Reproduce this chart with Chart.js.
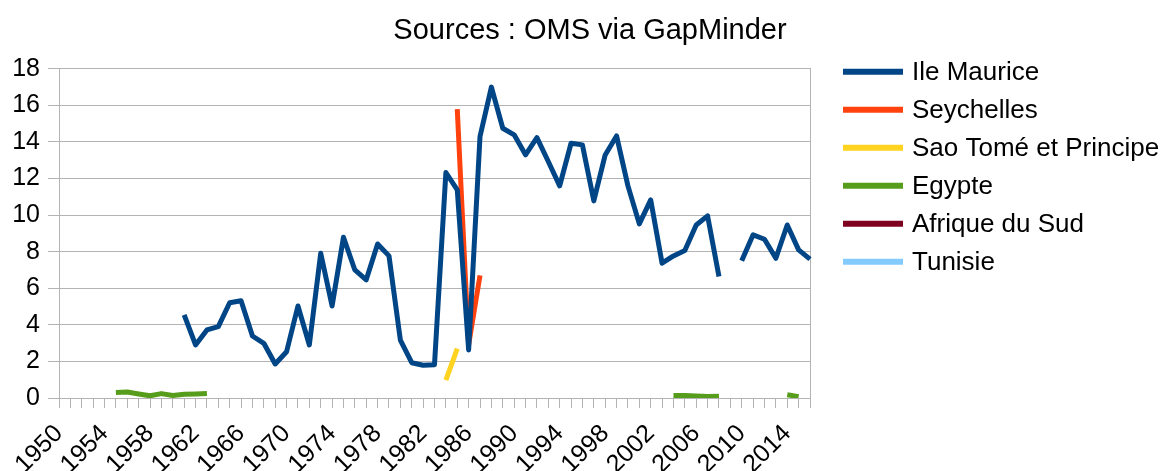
<!DOCTYPE html>
<html>
<head>
<meta charset="utf-8">
<script src="https://cdn.jsdelivr.net/npm/chart.js@4"></script>
<style>
  body { margin: 0; background: #fff; }
  #wrap { width: 1171px; height: 471px; }
</style>
</head>
<body>
<div id="wrap"><canvas id="chart"></canvas></div>
<script>
const FONT = '"Liberation Sans", Arial, sans-serif';

// years 1950..2016
const years = [];
for (let y = 1950; y <= 2016; y++) years.push(String(y));

const seriesNames = ['Ile Maurice', 'Seychelles', 'Sao Tomé et Principe', 'Egypte', 'Afrique du Sud', 'Tunisie'];
const seriesColors = ['#004586', '#ff420e', '#ffd320', '#579d1c', '#7e0021', '#83caff'];

// values, keyed by year
const ileMaurice = {
    1961: 4.54, 1962: 2.9, 1963: 3.72, 1964: 3.9, 1965: 5.21, 1966: 5.32, 1967: 3.39, 1968: 2.99,
    1969: 1.86, 1970: 2.53, 1971: 5.03, 1972: 2.9, 1973: 7.91, 1974: 5.03, 1975: 8.79, 1976: 7.0,
    1977: 6.46, 1978: 8.42, 1979: 7.77, 1980: 3.17, 1981: 1.93, 1982: 1.79, 1983: 1.82, 1984: 12.33,
    1985: 11.38, 1986: 2.63, 1987: 14.3, 1988: 17.0, 1989: 14.75, 1990: 14.39, 1991: 13.3, 1992: 14.24,
    1993: 12.93, 1994: 11.6, 1995: 13.93, 1996: 13.84, 1997: 10.78, 1998: 13.29, 1999: 14.33, 2000: 11.6,
    2001: 9.52, 2002: 10.83, 2003: 7.37, 2004: 7.77, 2005: 8.06, 2006: 9.46, 2007: 9.96, 2008: 6.64,
    2010: 7.51, 2011: 8.92, 2012: 8.68, 2013: 7.64, 2014: 9.46, 2015: 8.1, 2016: 7.59
};
const seychelles = { 1985: 15.8, 1986: 2.9, 1987: 6.7 };
const saoTome = { 1984: 0.98, 1985: 2.7 };
const egypte = {
    1955: 0.3, 1956: 0.33, 1957: 0.22, 1958: 0.12, 1959: 0.24, 1960: 0.14, 1961: 0.2, 1962: 0.22, 1963: 0.24,
    2004: 0.14, 2005: 0.13, 2006: 0.11, 2007: 0.08, 2008: 0.1,
    2014: 0.18, 2015: 0.07
};
const afriqueDuSud = {};
const tunisie = {};

const seriesValues = [ileMaurice, seychelles, saoTome, egypte, afriqueDuSud, tunisie];

function toArray(obj) {
    return years.map(y => (obj[y] !== undefined ? obj[y] : null));
}

const datasets = seriesNames.map((name, i) => ({
    label: name,
    data: toArray(seriesValues[i]),
    borderColor: seriesColors[i],
    backgroundColor: seriesColors[i],
    borderWidth: 5,
    borderJoinStyle: 'round',
    pointRadius: 0,
    pointHoverRadius: 0,
    tension: 0,
    spanGaps: false,
    fill: false
}));

// legend drawn to the right of the plot, rows aligned with the top of the plot
const sideLegend = {
    id: 'sideLegend',
    afterDraw(chart) {
        const { ctx, chartArea } = chart;
        const x0 = chartArea.right + 33;
        ctx.save();
        ctx.font = '26px ' + FONT;
        ctx.textBaseline = 'middle';
        ctx.textAlign = 'left';
        chart.data.datasets.forEach((ds, i) => {
            const y = chartArea.top + 3 + 38 * i;
            ctx.strokeStyle = ds.borderColor;
            ctx.lineWidth = 6;
            ctx.beginPath();
            ctx.moveTo(x0, y);
            ctx.lineTo(x0 + 60, y);
            ctx.stroke();
            ctx.fillStyle = '#000';
            ctx.fillText(ds.label, x0 + 69, y + 1);
        });
        ctx.restore();
    }
};

const GRID = '#b3b3b3';

new Chart(document.getElementById('chart').getContext('2d'), {
    type: 'line',
    data: { labels: years, datasets },
    plugins: [sideLegend],
    options: {
        responsive: true,
        maintainAspectRatio: false,
        animation: false,
        layout: { padding: { left: 9, right: 0, top: 0, bottom: 0 } },
        plugins: {
            legend: { display: false },
            tooltip: { enabled: false },
            title: {
                display: true,
                text: 'Sources : OMS via GapMinder',
                color: '#000',
                font: { family: FONT, size: 29, weight: 'normal' },
                padding: { top: 14, bottom: 20 }
            }
        },
        scales: {
            x: {
                type: 'category',
                offset: false,
                afterFit(scale) { scale.height = 73; },
                grid: { drawOnChartArea: false, drawTicks: true, tickLength: 10, color: GRID, lineWidth: 1 },
                border: { color: GRID, width: 1 },
                ticks: {
                    autoSkip: false,
                    maxRotation: 45,
                    minRotation: 45,
                    padding: 11,
                    color: '#000',
                    font: { family: FONT, size: 25 },
                    callback: function (value, index) {
                        const lab = years[index];
                        return (Number(lab) - 1950) % 4 === 0 ? lab : '';
                    }
                }
            },
            y: {
                min: 0,
                max: 18,
                afterFit(scale) { scale.width = 50; },
                grid: { color: GRID, tickLength: 11, lineWidth: 1 },
                border: { color: GRID, width: 1 },
                ticks: {
                    stepSize: 2,
                    padding: 8,
                    color: '#000',
                    font: { family: FONT, size: 25 }
                }
            },
            y2: {
                position: 'right',
                min: 0,
                max: 18,
                afterFit(scale) { scale.width = 361; },
                grid: { drawOnChartArea: false, drawTicks: false },
                border: { color: GRID, width: 1 },
                ticks: { display: false }
            }
        }
    }
});
</script>
</body>
</html>
